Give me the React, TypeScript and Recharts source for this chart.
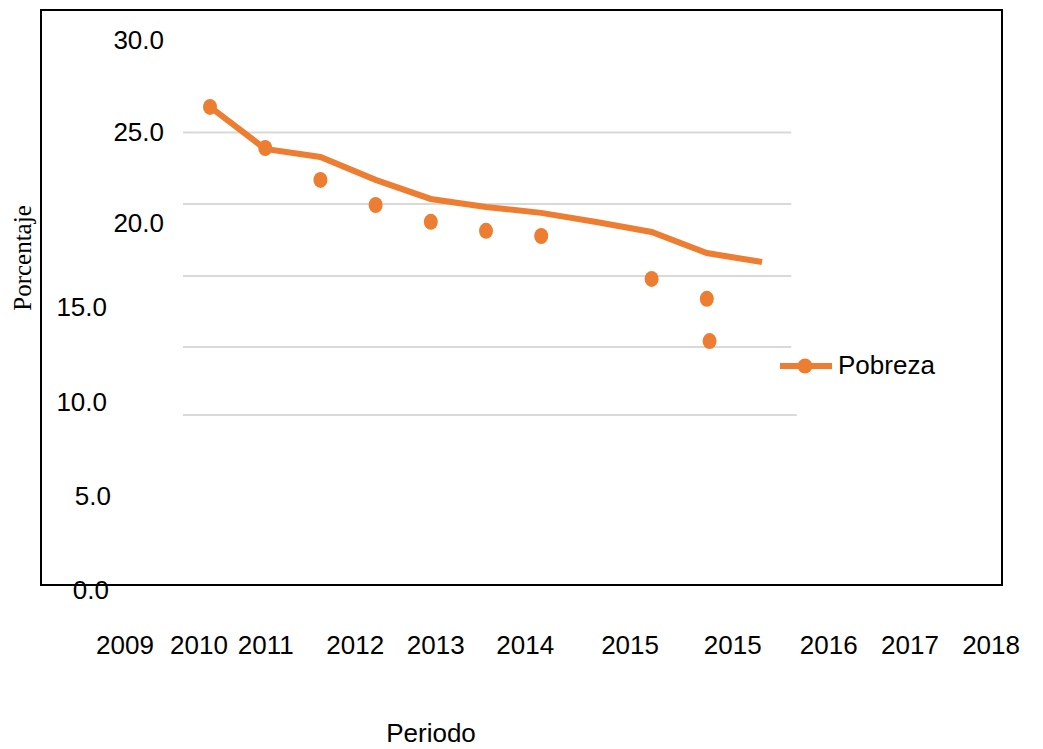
import React from 'react';
import {
  ComposedChart,
  Line,
  Scatter,
  XAxis,
  YAxis,
  ReferenceLine,
  Legend,
} from 'recharts';

// positions along the period axis (0 = first observation)
const lineX = [0, 1, 2, 3, 4, 5, 6, 7, 8, 9, 10];
const lineValues = [26.35, 24.06, 23.62, 22.37, 21.33, 20.89, 20.57, 20.07, 19.53, 18.38, 17.89];

const dotX = [0, 1, 2, 3, 4, 5, 6, 8, 9, 9.05];
const dotValues = [26.35, 24.11, 22.37, 21.0, 20.08, 19.59, 19.31, 16.97, 15.88, 13.58];

const yTicks = [0, 5, 10, 15, 20, 25, 30];
const xTickPos = [-1.54, -0.2, 1.01, 2.63, 4.09, 5.71, 7.61, 9.47, 11.21, 12.68, 14.15];
const xTickLabels = ['2009', '2010', '2011', '2012', '2013', '2014', '2015', '2015', '2016', '2017', '2018'];

const gridValues = [24.95, 21.06, 17.13, 13.26, 9.55];
const gridEnds = [10.53, 10.53, 10.53, 10.53, 10.63];
const gridStart = -0.49;

const ORANGE = '#ED7D31';
const FONT = '"Liberation Sans", Arial, sans-serif';

const lineData = lineX.map((x, i) => ({ x, y: lineValues[i] }));
const dotData = dotX.map((x, i) => ({ x, y: dotValues[i] }));

// label placement quirks of the original y axis
const yLabelRight: Record<number, number> = { 30: 164, 25: 164, 20: 164, 15: 107, 10: 107, 5: 111, 0: 109 };
const yLabelShift: Record<number, number> = { 15: -8, 10: -5, 5: -2 };

const YTick = (props: any) => {
  const v = props.payload.value;
  return (
    <text
      x={yLabelRight[v]}
      y={props.y + 9 + (yLabelShift[v] || 0)}
      textAnchor="end"
      fontSize={26}
      fontFamily={FONT}
      fill="#000"
    >
      {v.toFixed(1)}
    </text>
  );
};

const XTick = (props: any) => {
  const idx = xTickPos.indexOf(props.payload.value);
  return (
    <text x={props.x} y={props.y + 62} textAnchor="middle" fontSize={26} fontFamily={FONT} fill="#000">
      {xTickLabels[idx]}
    </text>
  );
};

const LegendContent = () => (
  <div style={{ display: 'flex', alignItems: 'center', fontFamily: FONT, fontSize: 26, color: '#000' }}>
    <svg width={52} height={20}>
      <line x1={0} y1={10} x2={52} y2={10} stroke={ORANGE} strokeWidth={6} />
      <circle cx={25} cy={10} r={7.5} fill={ORANGE} />
    </svg>
    <span style={{ marginLeft: 6 }}>Pobreza</span>
  </div>
);

export default function App() {
  return (
    <div style={{ position: 'absolute', left: 0, top: 0, width: 1043, height: 749, background: '#fff' }}>
      <div
        style={{
          position: 'absolute',
          left: 40,
          top: 9,
          width: 963,
          height: 577,
          border: '2px solid #000',
          boxSizing: 'border-box',
        }}
      />
      <div style={{ position: 'absolute', left: 0, top: 0 }}>
        <ComposedChart width={1043} height={749} margin={{ top: 40, right: 40, bottom: 28, left: 0 }}>
          <XAxis
            type="number"
            dataKey="x"
            domain={[-3.08, 14.366]}
            allowDataOverflow
            ticks={xTickPos}
            interval={0}
            axisLine={false}
            tickLine={false}
            tickSize={0}
            height={100}
            tick={XTick}
            label={{
              value: 'Periodo',
              content: () => (
                <text x={431} y={742} textAnchor="middle" fontSize={26} fontFamily={FONT} fill="#000">
                  Periodo
                </text>
              ),
            }}
          />
          <YAxis
            type="number"
            dataKey="y"
            domain={[0, 30]}
            allowDataOverflow
            ticks={yTicks}
            interval={0}
            width={40}
            axisLine={false}
            tickLine={false}
            tick={YTick}
            label={{
              value: 'Porcentaje',
              content: () => (
                <text
                  x={31}
                  y={258}
                  transform="rotate(-90 31 258)"
                  textAnchor="middle"
                  fontSize={25}
                  fontFamily='"Liberation Serif", "Times New Roman", serif'
                  fill="#000"
                >
                  Porcentaje
                </text>
              ),
            }}
          />
          {gridValues.map((v, i) => (
            <ReferenceLine
              key={i}
              segment={[
                { x: gridStart, y: v },
                { x: gridEnds[i], y: v },
              ]}
              stroke="#d9d9d9"
              strokeWidth={2}
            />
          ))}
          <Line
            data={lineData}
            dataKey="y"
            type="linear"
            stroke={ORANGE}
            strokeWidth={6}
            dot={false}
            activeDot={false}
            isAnimationActive={false}
            legendType="none"
          />
          <Scatter
            data={dotData}
            dataKey="y"
            fill={ORANGE}
            isAnimationActive={false}
            shape={(p: any) => <ellipse cx={p.cx} cy={p.cy} rx={7} ry={8} fill={ORANGE} />}
          />
          <Legend content={LegendContent} wrapperStyle={{ left: 780, top: 350, width: 'auto', bottom: 'auto' }} />
        </ComposedChart>
      </div>
    </div>
  );
}
